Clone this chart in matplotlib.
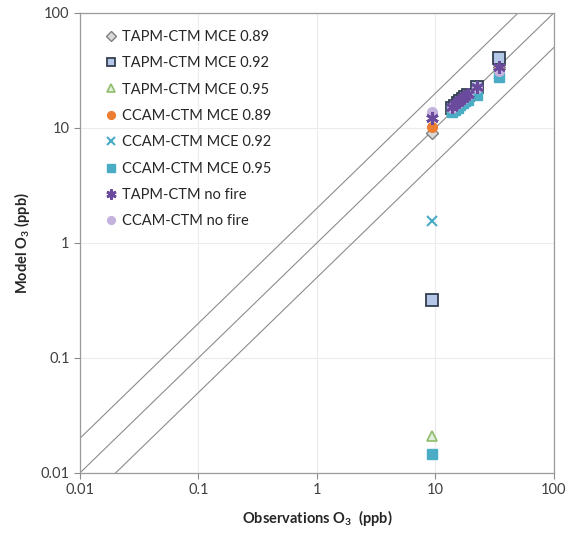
import numpy as np
import matplotlib.pyplot as plt

plt.rcParams['font.family'] = ['Lato', 'DejaVu Sans']
plt.rcParams['mathtext.fontset'] = 'custom'
plt.rcParams['mathtext.rm'] = 'Lato'
plt.rcParams['mathtext.bf'] = 'Lato:bold'

# observaciones por estacion (ppb)
obs = [9.4, 13.8, 14.6, 15.4, 16.2, 17.0, 17.8, 18.7, 22.5, 34.5]

# modelo por serie (ppb)
tapm_089 = [9.1, 15.0, 15.6, 16.3, 17.0, 17.6, 18.3, 19.0, 22.5, 34.0]
tapm_092 = [0.32, 14.9, 15.6, 16.3, 17.0, 17.7, 18.4, 19.2, 22.8, 40.5]
tapm_095 = [0.021, 14.8, 15.5, 16.2, 16.9, 17.5, 18.2, 18.9, 22.0, 33.0]
ccam_089 = [10.2, 14.5, 15.2, 15.9, 16.6, 17.2, 17.9, 18.6, 21.5, 32.0]
ccam_092 = [1.55, 14.0, 14.7, 15.4, 16.0, 16.7, 17.4, 18.0, 20.5, 29.5]
ccam_095 = [0.0145, 13.7, 14.4, 15.0, 15.7, 16.3, 17.0, 17.6, 19.5, 27.5]
tapm_nf = [12.2, 15.3, 16.0, 16.7, 17.4, 18.1, 18.8, 19.6, 22.8, 33.5]
ccam_nf = [13.8, 15.0, 15.7, 16.4, 17.1, 17.8, 18.5, 19.2, 22.0, 31.5]

etiquetas = ['TAPM-CTM MCE 0.89', 'TAPM-CTM MCE 0.92', 'TAPM-CTM MCE 0.95',
             'CCAM-CTM MCE 0.89', 'CCAM-CTM MCE 0.92', 'CCAM-CTM MCE 0.95',
             'TAPM-CTM no fire', 'CCAM-CTM no fire']
series = [tapm_089, tapm_092, tapm_095, ccam_089, ccam_092, ccam_095, tapm_nf, ccam_nf]
capas = [3, 3, 3, 3, 3, 3, 5, 4]

estilos = [
    dict(marker='D', ms=6, mfc='#d9d9d9', mec='#7f7f7f', mew=1.0),
    dict(marker='s', ms=8, mfc='#b4c7e7', mec='#333f50', mew=1.3),
    dict(marker='^', ms=7, mfc='#e2efda', mec='#8fbc6a', mew=1.2),
    dict(marker='o', ms=7, mfc='#ed7d31', mec='#ed7d31', mew=1.0),
    dict(marker='x', ms=7, mfc='none', mec='#4bacc6', mew=1.5),
    dict(marker='s', ms=7, mfc='#4bacc6', mec='#4bacc6', mew=1.0),
    dict(marker=(6, 2, 0), ms=9, mfc='none', mec='#6a4a9c', mew=2.0),
    dict(marker='o', ms=7, mfc='#c3b3dc', mec='#c3b3dc', mew=1.0),
]

ventana = plt.figure(figsize=(5.71, 5.35), dpi=100)
plano = ventana.add_axes([0.140, 0.116, 0.830, 0.860])

# lineas 1:1, 2:1 y 1:2
x = np.array([0.01, 100])
for f in [2, 1, 0.5]:
    plano.plot(x, f * x, color='#8c8c8c', lw=0.8, zorder=2)

for y, lab, est, z in zip(series, etiquetas, estilos, capas):
    plano.plot(obs, y, ls='none', label=lab, zorder=z, **est)

plano.set_xscale('log')
plano.set_yscale('log')
plano.set_xlim(0.01, 100)
plano.set_ylim(0.01, 100)
ticks = [0.01, 0.1, 1, 10, 100]
ticklab = ['0.01', '0.1', '1', '10', '100']
plano.set_xticks(ticks)
plano.set_xticklabels(ticklab)
plano.set_yticks(ticks)
plano.set_yticklabels(ticklab)
plano.minorticks_off()
plano.tick_params(axis='both', labelsize=10.5, colors='#8c8c8c', labelcolor='#404040',
                  length=4, width=0.8, direction='out')
plano.grid(True, color='#ececec', lw=0.8, zorder=0)
plano.set_axisbelow(True)
for lado in plano.spines.values():
    lado.set_color('#9a9a9a')
    lado.set_linewidth(0.9)

plano.set_xlabel(r'Observations O$_{\mathbf{3}}$  (ppb)', fontsize=10.5,
                 fontweight='bold', color='#262626', labelpad=8)
plano.set_ylabel(r'Model O$_{\mathbf{3}}$ (ppb)', fontsize=10.5,
                 fontweight='bold', color='#262626', labelpad=6)

plano.legend(loc='upper left', frameon=False, fontsize=10.5, labelspacing=0.85,
             handletextpad=0.2, handlelength=1.0, borderaxespad=0.6, markerscale=0.8,
             bbox_to_anchor=(0.02, 0.995), labelcolor='#262626')

ventana.savefig('out.png', dpi=100)
